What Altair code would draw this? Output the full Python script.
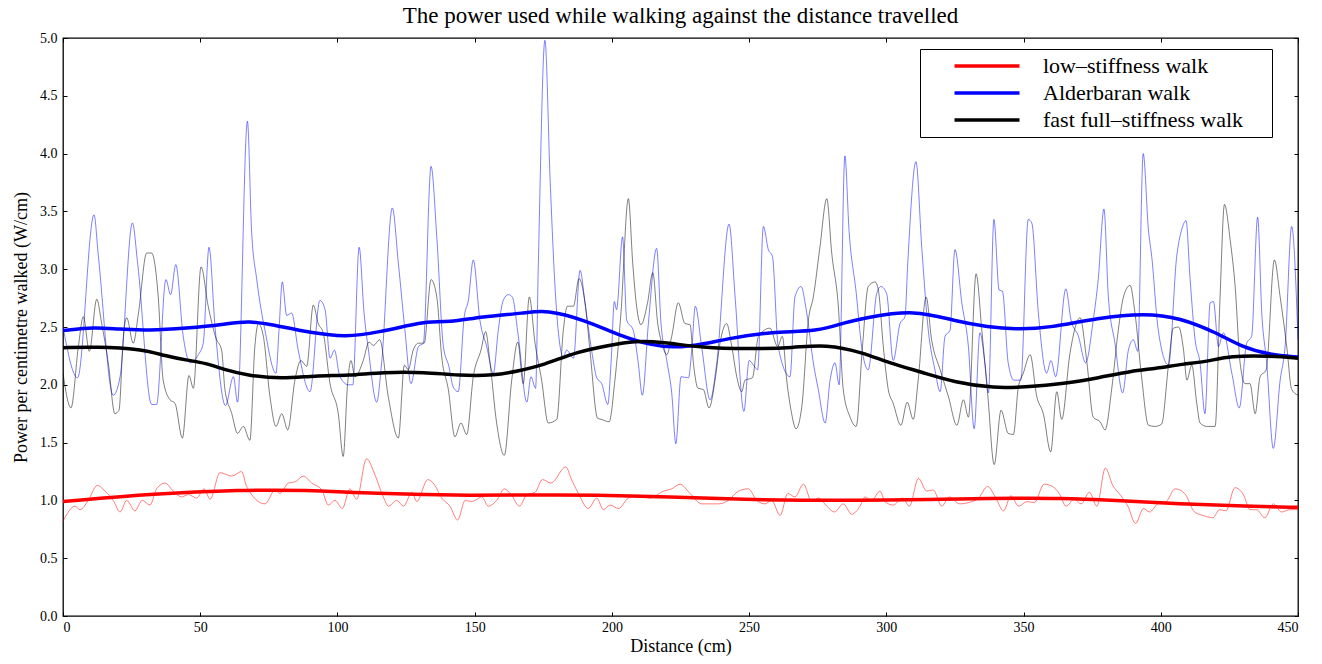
import altair as alt
import pandas as pd

NAMES = ["low–stiffness walk", "Alderbaran walk", "fast full–stiffness walk"]
SMOOTH_COLORS = ["#ff0000", "#0000ff", "#000000"]
RAW_COLORS = ["#ff0000", "#0000ff", "#000000"]
X_TICKS = [0, 50, 100, 150, 200, 250, 300, 350, 400, 450]
Y_TICKS = [0.0, 0.5, 1.0, 1.5, 2.0, 2.5, 3.0, 3.5, 4.0, 4.5, 5.0]
TITLE = "The power used while walking against the distance travelled"
X_TITLE = "Distance (cm)"
Y_TITLE = "Power per centimetre walked (W/cm)"

# raw (thin) traces, (distance, power)
RED_RAW = [(0,0.82),(4.4,0.95),(6.2,0.92),(9.2,1.00),(12.5,1.13),(15.3,1.08),(18.3,1.00),(20.8,0.90),(23.2,1.00),(26.2,0.91),(28.9,1.00),(31.7,0.96),(34.1,1.10),(37.2,1.15),(40.2,1.08),(43.2,1.03),(45.7,1.05),(48.7,1.02),(51.4,1.10),(53.6,1.01),(57.2,1.24),(61.5,1.21),(65.1,1.25),(66.9,1.12),(73.6,0.97),(77.3,1.09),(79.1,1.06),(82.1,1.15),(84.5,1.16),(87.6,1.21),(90.6,1.15),(94.3,1.09),(96.7,0.96),(99.1,1.00),(101.8,0.93),(104.5,1.10),(107.0,1.01),(110.6,1.36),(113.7,1.22),(116.7,1.03),(118.6,0.95),(121.6,1.00),(124.1,0.95),(127.1,1.07),(128.9,0.99),(132.9,1.18),(135.5,1.13),(138.0,1.02),(141.0,0.95),(143.8,0.83),(146.5,1.00),(148.9,0.99),(150.1,1.00),(152.6,1.03),(155.0,0.95),(158.0,1.00),(160.8,1.10),(163.3,1.05),(166.3,0.95),(169.0,1.05),(172.0,1.07),(174.7,1.18),(177.8,1.15),(183.2,1.29),(185.3,1.18),(187.8,1.06),(191.4,0.93),(194.5,1.02),(196.9,0.92),(199.3,0.96),(202.4,0.93),(206.0,1.02),(209.7,1.04),(213.9,1.02),(218.8,1.08),(221.8,1.10),(224.8,1.14),(228.5,1.06),(232.7,0.97),(238.8,0.97),(242.4,1.00),(246.1,1.08),(249.7,1.10),(252.8,1.00),(255.8,0.97),(258.2,1.00),(261.3,0.87),(264.1,1.06),(266.7,1.03),(269.8,1.14),(272.8,0.99),(275.3,1.02),(278.3,0.95),(281.1,0.90),(284.3,0.97),(287.4,0.88),(290.4,0.95),(292.2,1.03),(294.6,1.00),(297.7,1.08),(299.5,0.99),(302.5,0.96),(305.9,1.02),(308.4,0.95),(311.7,1.19),(314.7,1.08),(317.1,1.09),(320.2,0.95),(322.9,1.03),(326.8,0.97),(329.8,0.98),(333.6,1.02),(336.9,1.12),(339.7,1.03),(342.7,0.91),(345.4,1.04),(348.2,0.95),(351.3,0.99),(353.9,0.98),(357.5,1.14),(360.6,1.12),(363.0,1.06),(365.5,0.95),(368.5,1.01),(371.0,0.97),(374.0,1.07),(376.7,0.95),(379.8,1.28),(382.5,1.13),(385.5,1.04),(388.0,0.95),(390.8,0.80),(393.7,0.93),(395.9,0.90),(398.9,0.97),(402.0,0.99),(405.2,1.10),(408.7,1.06),(412.3,0.90),(415.4,0.87),(419.0,0.85),(421.4,0.92),(423.8,0.91),(427.0,1.11),(430.1,1.05),(432.5,0.92),(434.9,0.92),(437.9,0.85),(441.0,0.97),(444.0,0.90),(447.1,0.92),(450.0,0.92)]

BLUE_RAW = [(0,2.50),(5.3,2.06),(11.3,3.47),(12.9,3.11),(18.3,1.91),(20.8,2.07),(25.3,3.40),(27.2,3.05),(32.3,1.83),(34.1,1.83),(37.5,2.91),(39.2,2.78),(41.1,3.04),(43.8,2.42),(46.3,2.19),(49.3,2.26),(51.1,2.36),(53.2,3.19),(55.4,2.50),(59.2,1.82),(62.1,2.07),(63.6,1.85),(67.2,4.28),(68.7,3.34),(70.6,2.91),(73.6,2.47),(77.6,2.10),(78.7,2.47),(79.9,2.89),(81.5,2.60),(83.3,2.62),(85.7,2.30),(90.0,1.94),(93.6,2.73),(95.5,2.65),(97.3,2.23),(98.9,2.30),(100.9,2.07),(104.0,2.00),(105.6,2.00),(107.9,3.19),(109.7,2.62),(111.3,2.30),(114.3,1.85),(116.1,2.19),(120.0,3.53),(122.2,3.05),(124.6,2.47),(126.8,2.01),(129.5,2.33),(131.3,2.36),(134.1,3.89),(136.2,3.28),(138.6,2.33),(140.6,2.16),(142.2,1.98),(144.0,1.94),(146.2,2.59),(147.7,2.73),(149.5,3.08),(151.9,2.56),(154.4,2.33),(156.8,2.10),(158.6,2.47),(160.4,2.73),(162.3,2.78),(163.7,2.76),(165.9,2.42),(169.0,1.85),(170.5,2.07),(172.2,1.97),(173.2,3.05),(175.6,4.98),(177.5,3.77),(179.5,2.76),(182.3,2.24),(183.5,2.30),(186.0,2.23),(188.4,2.99),(190.2,2.71),(192.6,2.30),(194.5,2.06),(196.3,2.01),(198.5,1.83),(199.7,2.19),(200.9,2.72),(201.7,2.65),(203.9,3.28),(205.4,2.56),(207.8,2.47),(209.6,2.19),(211.1,1.91),(213.3,2.53),(216.3,3.18),(217.9,2.53),(220.0,2.21),(221.8,1.93),(223.3,1.49),(225.2,2.07),(227.9,2.06),(229.1,2.30),(230.4,2.68),(232.7,2.33),(235.8,1.87),(238.2,2.19),(242.7,3.39),(244.9,2.76),(248.1,1.77),(250.0,2.21),(251.9,2.16),(253.1,2.13),(255.2,3.37),(257.0,3.17),(258.5,3.11),(260.6,2.33),(264.9,2.07),(266.7,2.76),(268.9,2.85),(271.0,2.62),(273.4,2.19),(275.2,1.96),(277.7,1.67),(279.5,2.04),(281.3,2.19),(282.8,2.00),(284.9,3.98),(286.4,3.34),(289.0,2.80),(291.0,2.33),(293.4,2.13),(296.5,2.79),(298.0,2.85),(300.1,2.79),(302.5,2.21),(305.0,2.53),(306.8,2.59),(307.8,3.05),(310.8,3.93),(312.9,3.19),(315.3,2.47),(317.7,2.13),(319.6,1.94),(321.4,2.42),(323.2,2.47),(325.0,3.17),(327.5,2.71),(329.9,2.33),(332.0,1.62),(334.1,2.45),(335.9,2.19),(337.2,1.93),(339.2,3.43),(341.1,2.82),(342.3,2.81),(344.4,2.19),(346.5,2.04),(349.0,2.04),(351.7,3.43),(353.0,3.40),(355.4,2.62),(358.4,2.10),(360.0,2.21),(361.7,2.07),(365.4,2.83),(367.3,2.56),(370.0,2.42),(372.6,2.19),(375.4,2.56),(377.2,2.91),(379.3,3.52),(380.9,2.76),(383.3,2.36),(386.1,1.93),(388.2,2.30),(390.0,2.39),(391.6,2.29),(393.6,4.00),(395.5,3.34),(396.7,3.11),(399.1,2.47),(402.8,2.17),(405.8,3.11),(407.6,3.34),(409.2,3.42),(410.7,2.91),(412.5,2.39),(414.3,2.19),(416.1,1.75),(418.0,2.71),(419.2,2.72),(421.0,2.33),(422.8,2.45),(425.9,2.10),(428.6,1.80),(431.3,2.36),(433.1,2.42),(435.3,3.45),(436.8,2.62),(438.6,2.19),(441.0,1.45),(443.5,2.04),(445.3,2.33),(447.7,3.37),(450.0,2.39)]

BLACK_RAW = [(0,2.10),(2.9,1.80),(5.6,2.33),(7.4,2.59),(9.6,2.29),(12.3,2.74),(14.1,2.53),(16.5,2.19),(18.9,1.75),(20.4,1.78),(22.0,2.42),(23.2,2.58),(25.6,2.36),(27.5,2.62),(30.5,3.14),(32.3,3.14),(34.7,2.76),(36.5,2.04),(39.0,1.87),(40.8,1.84),(43.5,1.54),(45.9,2.08),(47.5,1.97),(50.3,3.02),(52.9,2.68),(55.8,2.40),(57.8,2.30),(59.0,1.96),(61.5,1.75),(63.6,1.58),(65.7,1.64),(68.1,1.52),(69.9,2.33),(71.2,2.53),(73.0,2.42),(75.4,1.90),(77.6,1.64),(79.7,1.75),(81.9,1.61),(84.5,2.04),(86.7,2.21),(88.8,2.16),(91.2,2.69),(93.0,2.53),(94.8,2.45),(97.3,2.01),(100.3,1.75),(102.1,1.38),(103.7,2.01),(104.9,2.21),(106.4,2.07),(109.4,2.21),(111.5,2.37),(113.1,2.34),(115.4,2.39),(118.5,1.90),(122.2,1.54),(124.4,2.17),(125.8,2.13),(127.6,2.30),(129.5,2.36),(131.6,2.36),(134.1,2.91),(136.2,2.76),(138.0,2.24),(140.4,1.96),(142.8,1.55),(145.0,1.67),(147.1,1.57),(149.5,2.07),(152.3,2.30),(154.0,2.46),(155.6,2.19),(158.0,1.67),(160.8,1.39),(163.5,2.04),(165.7,2.37),(167.7,2.01),(169.9,2.76),(172.0,2.36),(174.4,2.04),(176.8,1.67),(179.9,1.70),(182.3,2.47),(183.8,2.68),(186.0,2.68),(188.0,2.92),(190.2,2.71),(192.0,2.30),(194.8,1.71),(196.3,1.70),(199.0,1.68),(201.1,2.04),(203.3,2.62),(206.0,3.61),(207.6,3.05),(209.0,2.68),(210.6,2.52),(213.0,2.71),(214.9,2.97),(216.7,2.53),(218.2,2.36),(220.0,2.26),(221.8,2.42),(224.2,2.71),(226.6,2.53),(228.5,2.52),(229.7,2.19),(231.4,1.97),(233.3,1.96),(235.4,1.80),(237.6,2.04),(239.4,2.36),(241.8,2.53),(243.7,2.33),(245.5,2.07),(247.3,1.94),(248.5,2.04),(251.2,2.06),(253.4,2.42),(257.6,2.49),(260.4,2.33),(262.1,2.42),(263.7,2.04),(265.5,1.75),(267.1,1.62),(269.2,1.81),(271.6,2.56),(273.4,2.76),(275.8,3.19),(278.3,3.61),(280.1,3.14),(282.5,2.68),(284.3,1.96),(286.8,1.72),(289.0,1.64),(291.3,2.33),(293.4,2.85),(295.9,2.89),(297.1,2.82),(298.9,2.33),(300.7,1.96),(302.5,1.84),(305.3,1.65),(307.6,1.85),(309.8,1.70),(311.6,2.04),(314.5,2.76),(316.5,2.39),(319.6,2.13),(322.6,1.90),(325.7,1.65),(328.1,1.87),(329.9,1.72),(332.7,2.96),(334.8,2.47),(337.0,1.90),(339.3,1.31),(341.8,1.78),(344.4,1.58),(346.3,1.57),(348.1,1.98),(349.9,2.10),(352.4,2.26),(354.8,1.90),(357.2,1.75),(359.9,1.42),(362.1,1.94),(363.9,1.70),(366.9,2.27),(370.6,2.58),(373.0,2.21),(375.4,1.72),(377.9,1.68),(379.7,1.61),(382.1,1.96),(384.5,2.47),(386.4,2.76),(388.8,2.86),(390.6,2.62),(393.0,2.07),(395.5,1.65),(397.9,1.64),(400.3,1.66),(402.8,2.17),(404.6,2.49),(406.5,2.50),(408.3,2.30),(409.5,2.04),(411.3,2.17),(413.1,1.84),(414.3,1.67),(416.7,1.64),(419.8,1.64),(421.6,2.76),(423.2,3.56),(425.3,3.25),(427.1,2.85),(428.9,2.19),(430.7,2.01),(432.5,2.01),(434.4,1.75),(436.2,2.07),(438.4,2.13),(441.4,3.08),(443.5,2.76),(445.9,2.33),(447.7,1.96),(450.0,1.91)]

# smoothed (thick) traces
RED_SMOOTH = [(0,0.99),(33.5,1.06),(65,1.09),(88.2,1.09),(112.5,1.06),(148.9,1.04),(180.5,1.05),(209.7,1.04),(243.7,1.01),(268,1.00),(298.3,1.00),(340.2,1.02),(364.5,1.02),(382.7,1.00),(407,0.97),(431.3,0.95),(450,0.94)]
BLUE_SMOOTH = [(0,2.47),(11.7,2.50),(20,2.48),(31,2.47),(45,2.49),(58.5,2.52),(67.5,2.56),(80,2.50),(90.6,2.45),(102.8,2.41),(116,2.46),(125,2.51),(133,2.55),(140.4,2.54),(152.6,2.59),(168.3,2.62),(176,2.65),(190.2,2.56),(202.3,2.43),(214.5,2.34),(223,2.32),(233,2.35),(242.4,2.40),(258.2,2.46),(275.2,2.46),(284.9,2.54),(292.2,2.58),(310.4,2.65),(325,2.55),(337.2,2.50),(346.9,2.48),(359,2.49),(377.2,2.58),(394.2,2.62),(407,2.58),(420.4,2.45),(430.1,2.32),(439.8,2.26),(450,2.24)]
BLACK_SMOOTH = [(0,2.32),(11.7,2.33),(28.7,2.31),(37.2,2.25),(45.7,2.21),(51.7,2.19),(59,2.13),(67.5,2.08),(79.7,2.05),(91.8,2.08),(104,2.08),(116.7,2.11),(131.9,2.11),(144,2.08),(157.4,2.08),(165.9,2.12),(175,2.17),(187.8,2.29),(198.7,2.34),(208.4,2.38),(218.2,2.37),(233.3,2.32),(248.5,2.31),(266.7,2.32),(277.7,2.35),(291.6,2.28),(300.7,2.19),(312.9,2.11),(325,2.02),(339.6,1.97),(349.9,1.98),(365.1,2.01),(377.2,2.06),(389.4,2.12),(398,2.14),(408.2,2.18),(416.7,2.20),(425.3,2.25),(439.8,2.25),(450,2.23)]


def frame(series_list):
    rows = []
    for name, pts in zip(NAMES, series_list):
        for x, y in pts:
            rows.append({"series": name, "x": x, "y": y})
    return pd.DataFrame(rows)


raw_df = frame([RED_RAW, BLUE_RAW, BLACK_RAW])
smooth_df = frame([RED_SMOOTH, BLUE_SMOOTH, BLACK_SMOOTH])

FONT = "Liberation Serif"
xscale = alt.Scale(domain=[0, 450], nice=False, zero=False)
yscale = alt.Scale(domain=[0, 5], nice=False, zero=False)

tick_style = dict(domain=False, grid=False, tickSize=4, offset=-4, tickColor="black", tickWidth=1)
label_style = dict(labelFont=FONT, labelFontSize=14, labelColor="black",
                   titleFont=FONT, titleFontSize=18, titleColor="black", titleFontWeight="normal")

raw = alt.Chart(raw_df).mark_line(strokeWidth=1, strokeOpacity=0.5, interpolate="monotone", clip=True).encode(
    x=alt.X("x:Q", scale=xscale, axis=alt.Axis(orient="top", values=X_TICKS, labels=False, title=None, **tick_style)),
    y=alt.Y("y:Q", scale=yscale, axis=alt.Axis(orient="right", values=Y_TICKS, labels=False, title=None, **tick_style)),
    color=alt.Color("series:N", scale=alt.Scale(domain=NAMES, range=RAW_COLORS), legend=None),
    detail="series:N",
)

smooth = alt.Chart(smooth_df).mark_line(strokeWidth=3.5, interpolate="basis", clip=True).encode(
    x=alt.X("x:Q", scale=xscale, axis=alt.Axis(orient="bottom", values=X_TICKS, title=X_TITLE,
                                              labelPadding=4, titlePadding=3, **tick_style, **label_style)),
    y=alt.Y("y:Q", scale=yscale, axis=alt.Axis(orient="left", values=Y_TICKS, format=".1f", title=Y_TITLE,
                                              labelPadding=6, titlePadding=9, **tick_style, **label_style)),
    color=alt.Color("series:N", scale=alt.Scale(domain=NAMES, range=SMOOTH_COLORS),
                    legend=alt.Legend(orient="none", legendX=857, legendY=11, title=None,
                                      symbolType="M-4,0H4M33.4,0", symbolSize=264, symbolStrokeWidth=3.5,
                                      labelFont=FONT, labelFontSize=22, labelColor="black", labelOffset=45,
                                      padding=6, rowPadding=5, symbolOffset=50,
                                      strokeColor="black", fillColor="white", labelLimit=400)),
)

chart = alt.layer(raw, smooth).resolve_scale(color="independent").resolve_axis(x="independent", y="independent").properties(
    width=1235, height=578,
    title=alt.TitleParams(TITLE, font=FONT, fontSize=23, fontWeight="normal", color="black", anchor="middle", offset=3),
    autosize=alt.AutoSizeParams(type="none"),
    padding={"left": 55, "top": 30, "right": 10, "bottom": 40},
    background="white",
).configure_view(stroke="black", strokeWidth=1.3)

chart.save("out.html", embed_options={"renderer": "svg", "actions": False})
